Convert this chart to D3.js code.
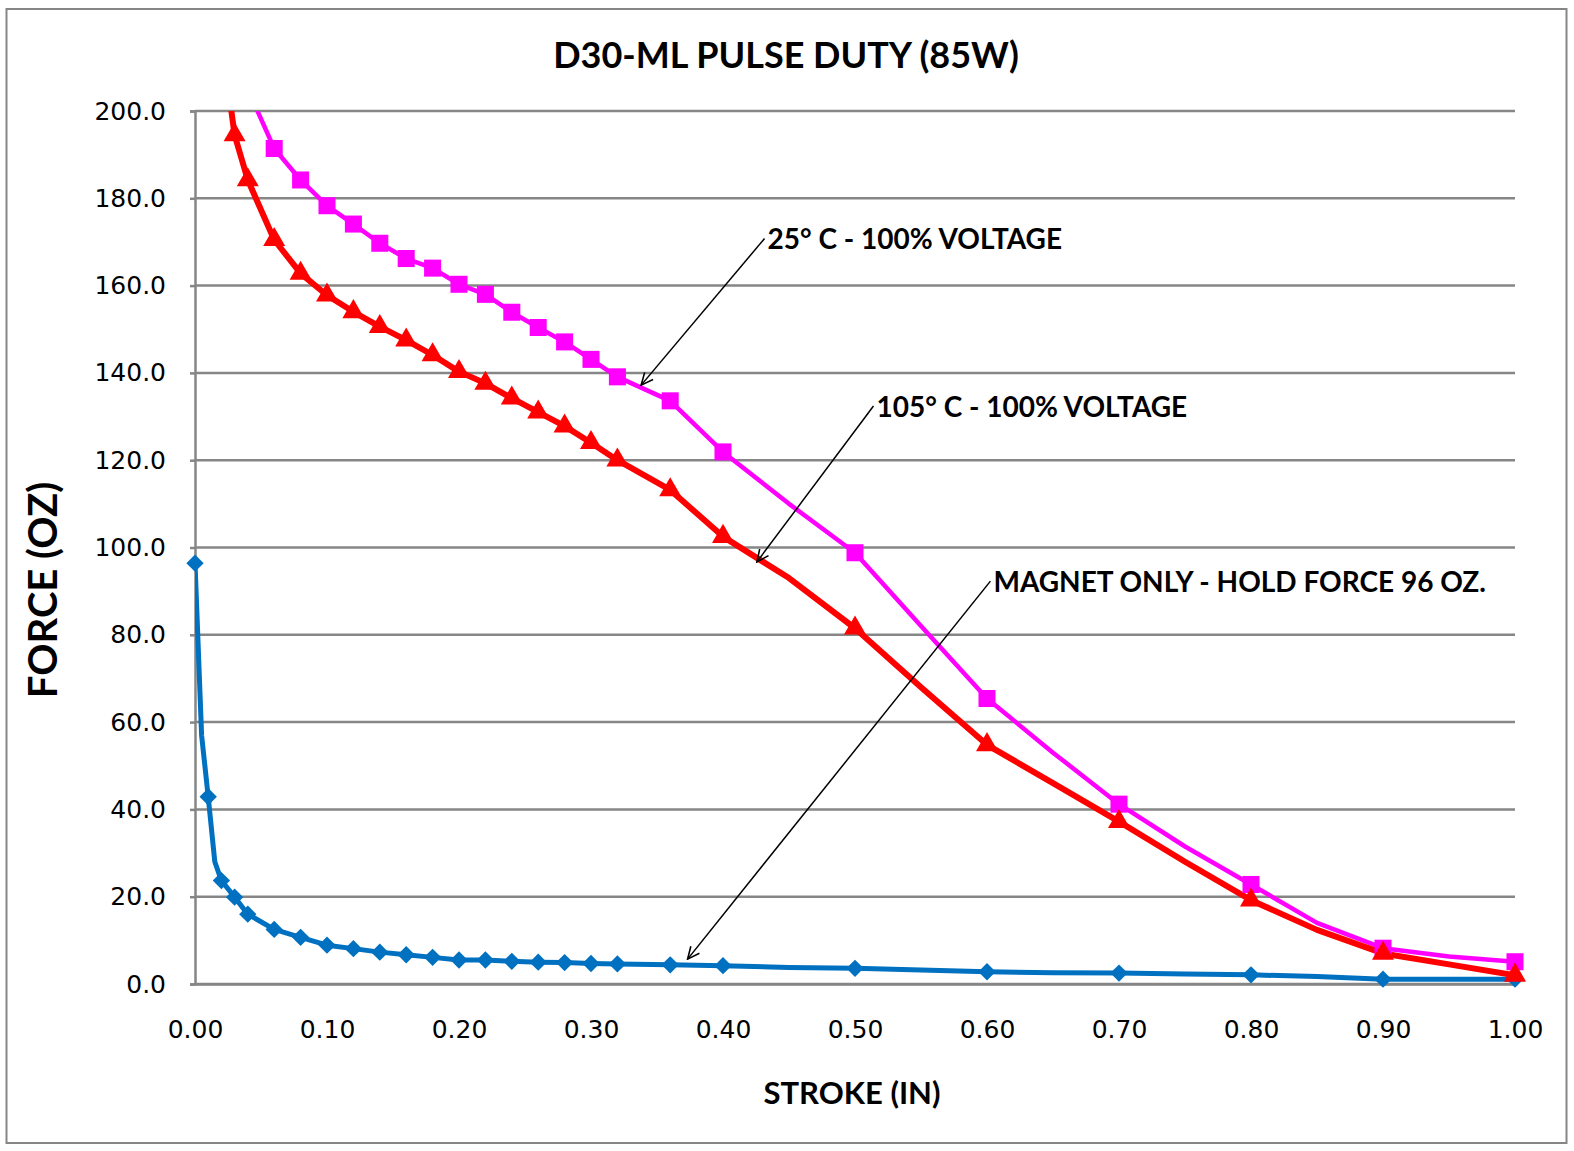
<!DOCTYPE html>
<html>
<head>
<meta charset="utf-8">
<script src="https://cdn.jsdelivr.net/npm/d3@7/dist/d3.min.js"></script>
<style>
  body { margin: 0; background: #fff; }
  .tick text { font-family: "DejaVu Sans", sans-serif; font-size: 25px; fill: #000; }
  .bold { font-family: Lato, "Liberation Sans", sans-serif; font-weight: 700; fill: #000; }
</style>
</head>
<body>
<svg width="1574" height="1151"></svg>
<script>
// stroke (in) / force (oz)
var magnetStroke = [0, 0.005, 0.01, 0.015, 0.02, 0.03, 0.04, 0.06, 0.08, 0.10, 0.12, 0.14, 0.16, 0.18, 0.20, 0.22, 0.24, 0.26, 0.28, 0.30, 0.32, 0.36, 0.40, 0.45, 0.50, 0.55, 0.60, 0.65, 0.70, 0.75, 0.80, 0.85, 0.90, 0.95, 1.00];
var magnetForce  = [96.4, 57, 42.9, 28, 23.7, 19.9, 16.0, 12.5, 10.7, 8.9, 8.1, 7.3, 6.7, 6.1, 5.5, 5.5, 5.2, 5.0, 4.9, 4.7, 4.6, 4.4, 4.2, 3.8, 3.6, 3.2, 2.8, 2.6, 2.5, 2.3, 2.1, 1.7, 1.1, 1.1, 1.1];

var hotStroke = [0.02, 0.03, 0.04, 0.06, 0.08, 0.10, 0.12, 0.14, 0.16, 0.18, 0.20, 0.22, 0.24, 0.26, 0.28, 0.30, 0.32, 0.36, 0.40, 0.45, 0.50, 0.55, 0.60, 0.65, 0.70, 0.75, 0.80, 0.85, 0.90, 0.95, 1.00];
var hotForce  = [217, 194.5, 184.2, 170.5, 162.8, 157.8, 154.0, 150.6, 147.5, 144.1, 140.3, 137.6, 134.2, 131.0, 127.8, 124.0, 120.0, 113.2, 102.5, 93.0, 81.5, 68.0, 54.8, 46.0, 37.2, 28.0, 19.2, 12.4, 7.0, 4.5, 2.0];

var roomStroke = [0.04, 0.06, 0.08, 0.10, 0.12, 0.14, 0.16, 0.18, 0.20, 0.22, 0.24, 0.26, 0.28, 0.30, 0.32, 0.36, 0.40, 0.45, 0.50, 0.55, 0.60, 0.65, 0.70, 0.75, 0.80, 0.85, 0.90, 0.95, 1.00];
var roomForce  = [205, 191.4, 184.2, 178.3, 174.1, 169.7, 166.2, 164.0, 160.3, 158.0, 153.9, 150.4, 147.1, 143.1, 139.1, 133.6, 121.9, 110.0, 98.8, 82.0, 65.4, 53.0, 41.2, 31.5, 22.8, 14.0, 8.2, 6.3, 5.1];

// strokes that carry a marker (the others are plain line points)
var markerStroke = [0, 0.01, 0.02, 0.03, 0.04, 0.06, 0.08, 0.10, 0.12, 0.14, 0.16, 0.18, 0.20, 0.22, 0.24, 0.26, 0.28, 0.30, 0.32, 0.36, 0.40, 0.50, 0.60, 0.70, 0.80, 0.90, 1.00];

var xTicks = [0, 0.1, 0.2, 0.3, 0.4, 0.5, 0.6, 0.7, 0.8, 0.9, 1.0];
var yTicks = [0, 20, 40, 60, 80, 100, 120, 140, 160, 180, 200];

// callouts: label, text anchor point, arrow tip (data units)
var callouts = [
  {label: "25\u00b0 C - 100% VOLTAGE", from: [0.4315, 170.8], to: [0.338, 137.2]},
  {label: "105\u00b0 C - 100% VOLTAGE", from: [0.514, 132.4], to: [0.4257, 96.7]},
  {label: "MAGNET ONLY - HOLD FORCE 96 OZ.", from: [0.6026, 92.3], to: [0.3732, 5.7]}
];

var svg = d3.select("svg"),
    margin = {top: 111, right: 59, bottom: 167, left: 195},
    width = +svg.attr("width") - margin.left - margin.right,
    height = +svg.attr("height") - margin.top - margin.bottom;

var grey = "#868686";

svg.append("rect")
    .attr("x", 6.5).attr("y", 9)
    .attr("width", 1560).attr("height", 1134)
    .attr("fill", "#fff")
    .attr("stroke", grey).attr("stroke-width", 2);

var xScale = d3.scaleLinear().domain([0, 1]).range([0, width]),
    yScale = d3.scaleLinear().domain([0, 200]).range([height, 0]);

var g = svg.append("g")
    .attr("transform", "translate(" + margin.left + "," + margin.top + ")");

g.append("clipPath").attr("id", "plot")
  .append("rect").attr("width", width).attr("height", height);

// gridlines
g.selectAll(".grid")
    .data(yTicks)
    .enter().append("line")
    .attr("x1", 0).attr("x2", width)
    .attr("y1", function(d) { return yScale(d); })
    .attr("y2", function(d) { return yScale(d); })
    .attr("stroke", grey).attr("stroke-width", 2.5);

var yAxis = g.append("g")
    .call(d3.axisLeft(yScale).tickValues(yTicks).tickSize(5).tickPadding(24).tickFormat(d3.format(".1f")));
yAxis.select(".domain").attr("stroke", grey).attr("stroke-width", 2.5);
yAxis.selectAll(".tick line").attr("stroke", grey).attr("stroke-width", 2.5);

var xAxis = g.append("g")
    .attr("transform", "translate(0," + height + ")")
    .call(d3.axisBottom(xScale).tickValues(xTicks).tickSize(0).tickPadding(36).tickFormat(d3.format(".2f")));
xAxis.select(".domain").attr("stroke", grey).attr("stroke-width", 2.5);

function pack(xs, ys) {
    return xs.map(function(x, i) { return {x: x, y: ys[i]}; });
}

// diamond = square turned 45 degrees
var series = [
    {name: "magnet", color: "#0070C0", width: 5, shape: d3.symbolSquare, size: 150, turn: 45, data: pack(magnetStroke, magnetForce)},
    {name: "room", color: "#FF00FF", width: 4.5, shape: d3.symbolSquare, size: 290, turn: 0, data: pack(roomStroke, roomForce)},
    {name: "hot", color: "#FF0000", width: 6, shape: d3.symbolTriangle, size: 210, turn: 0, data: pack(hotStroke, hotForce)}
];

var line = d3.line()
    .x(function(d) { return xScale(d.x); })
    .y(function(d) { return yScale(d.y); });

var lines = g.append("g").attr("clip-path", "url(#plot)");

series.forEach(function(s) {
    lines.append("path")
        .datum(s.data)
        .attr("fill", "none")
        .attr("stroke", s.color)
        .attr("stroke-width", s.width)
        .attr("stroke-linejoin", "round")
        .attr("d", line);

    var pts = s.data.filter(function(d) {
        return d.y <= 200 && markerStroke.some(function(m) { return Math.abs(m - d.x) < 1e-9; });
    });
    g.append("g").selectAll("path")
        .data(pts)
        .enter().append("path")
        .attr("transform", function(d) { return "translate(" + xScale(d.x) + "," + yScale(d.y) + ") rotate(" + s.turn + ")"; })
        .attr("d", d3.symbol().type(s.shape).size(s.size))
        .attr("fill", s.color);
});

// arrow callouts
svg.append("defs").append("marker")
    .attr("id", "arrow")
    .attr("markerUnits", "userSpaceOnUse")
    .attr("viewBox", "0 0 14 14")
    .attr("refX", 13).attr("refY", 7)
    .attr("markerWidth", 14).attr("markerHeight", 14)
    .attr("orient", "auto")
  .append("path")
    .attr("d", "M1,1.5 L13,7 L1,12.5")
    .attr("fill", "none")
    .attr("stroke", "#000")
    .attr("stroke-width", 1.6);

callouts.forEach(function(c) {
    g.append("line")
        .attr("x1", xScale(c.from[0])).attr("y1", yScale(c.from[1]))
        .attr("x2", xScale(c.to[0])).attr("y2", yScale(c.to[1]))
        .attr("stroke", "#000").attr("stroke-width", 1.5)
        .attr("marker-end", "url(#arrow)");
    g.append("text")
        .attr("class", "bold")
        .attr("x", xScale(c.from[0]) + 3)
        .attr("y", yScale(c.from[1]) + 11)
        .attr("font-size", 28)
        .text(c.label);
});

// titles
svg.append("text")
    .attr("class", "bold")
    .attr("x", 786).attr("y", 68)
    .attr("text-anchor", "middle")
    .attr("font-size", 36)
    .text("D30-ML PULSE DUTY (85W)");

svg.append("text")
    .attr("class", "bold")
    .attr("x", 852).attr("y", 1104)
    .attr("text-anchor", "middle")
    .attr("font-size", 31)
    .text("STROKE (IN)");

svg.append("text")
    .attr("class", "bold")
    .attr("transform", "translate(57,590) rotate(-90)")
    .attr("text-anchor", "middle")
    .attr("font-size", 40)
    .text("FORCE (OZ)");
</script>
</body>
</html>
